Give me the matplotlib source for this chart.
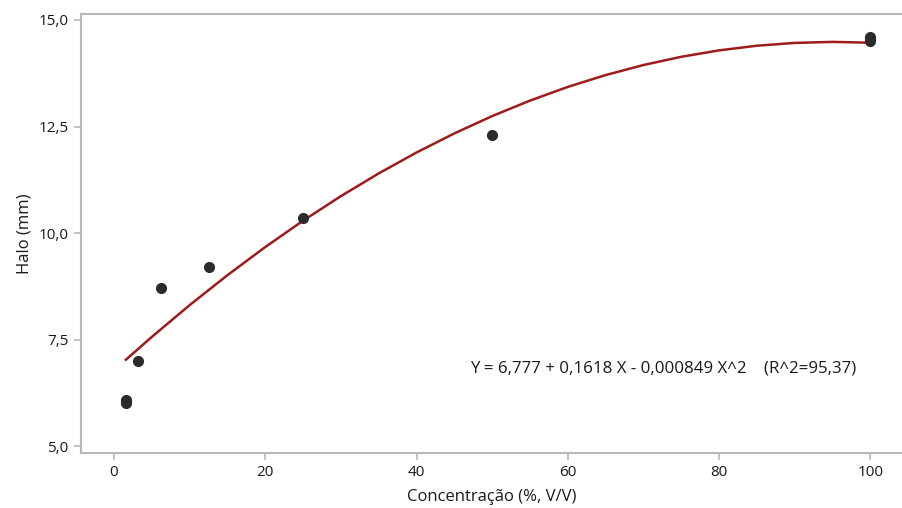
import matplotlib
matplotlib.use("Agg")
import matplotlib.pyplot as plt
from matplotlib.ticker import FuncFormatter

# observed halo values (replicates overlap at some concentrations)
conc = [1.5625, 1.5625, 1.5625, 3.125, 6.25, 12.5, 25, 50, 100, 100, 100]
halo = [6.02, 6.08, 6.05, 7.0, 8.7, 9.2, 10.35, 12.3, 14.5, 14.55, 14.6]

# fitted quadratic
fit_x = [1.5625, 5, 10, 15, 20, 25, 30, 35, 40, 45, 50,
         55, 60, 65, 70, 75, 80, 85, 90, 95, 100]
fit_y = [7.028, 7.565, 8.310, 9.013, 9.673, 10.291, 10.867, 11.400, 11.891, 12.339, 12.745,
         13.108, 13.429, 13.707, 13.943, 14.136, 14.287, 14.396, 14.462, 14.486, 14.467]

x_ticks = [0, 20, 40, 60, 80, 100]
y_ticks = [5.0, 7.5, 10.0, 12.5, 15.0]
equation = "Y = 6,777 + 0,1618 X - 0,000849 X^2    (R^2=95,37)"

plt.rcParams["font.family"] = ["Open Sans", "DejaVu Sans"]

fig = plt.figure(figsize=(9.02, 5.08), dpi=100)
ax = fig.add_axes([0.0898, 0.1083, 0.9102, 0.8641])

ax.plot(fit_x, fit_y, color="#9e1b1b", linewidth=1.8, zorder=2)
ax.plot(conc, halo, "o", color="#2b2b2b", markersize=7, zorder=3)

ax.set_xlim(-4.37, 104.2)
ax.set_ylim(4.84, 15.14)
ax.set_xticks(x_ticks)
ax.set_yticks(y_ticks)
ax.yaxis.set_major_formatter(FuncFormatter(lambda v, p: f"{v:.1f}".replace(".", ",")))

for side in ["left", "bottom", "top"]:
    ax.spines[side].set_color("#b8b8b8")
    ax.spines[side].set_linewidth(1.5)
ax.spines["right"].set_visible(False)
ax.tick_params(direction="out", length=5, width=1.2, color="#b8b8b8",
               labelsize=11, labelcolor="#1a1a1a", pad=4)

ax.set_xlabel("Concentração (%, V/V)", fontsize=12, color="#1a1a1a", labelpad=6)
ax.set_ylabel("Halo (mm)", fontsize=12, color="#1a1a1a", labelpad=4)

ax.text(47.1, 6.83, equation, fontsize=12.2, color="#1a1a1a", va="center", ha="left")

fig.savefig("out.png", dpi=100)
